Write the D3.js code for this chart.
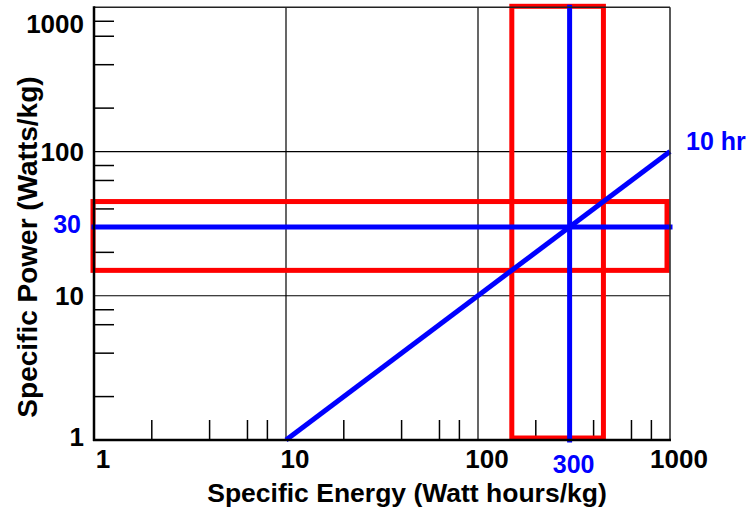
<!DOCTYPE html>
<html><head><meta charset="utf-8">
<script src="https://cdn.jsdelivr.net/npm/d3@7"></script>
<style>
body{margin:0;background:#fff}
text{font-family:"Liberation Sans",Arial,Helvetica,sans-serif;font-weight:bold}
</style>
</head><body>
<svg id="c" width="750" height="509"></svg>
<script>
// ---- data ----
const xMajor = [1, 10, 100, 1000];
const yMajor = [1, 10, 100, 1000];
const xLabels = ["1", "10", "100", "1000"];
const yLabels = ["1", "10", "100", "1000"];
const decades = [1, 10, 100];
const minorMultipliers = [2, 4, 6.3, 8];
const gridValues = [10, 100];
const diagonalEnergy = [10, 1000];   // Wh/kg
const diagonalPower = [1, 100];      // W/kg  (10 hr discharge)
const energyMark = 300, powerMark = 30;
const energyBand = [150, 450];
const powerBand = [15, 45];
const xTitle = "Specific Energy (Watt hours/kg)";
const yTitle = "Specific Power (Watts/kg)";
const lineLabel = "10 hr";

// ---- layout ----
const svg = d3.select("#c");
const x = d3.scaleLog().domain([1, 1000]).range([94, 670]);
const y = d3.scaleLog().domain([1, 1000]).range([440, 7.3]);
const minors = decades.flatMap(d => minorMultipliers.map(m => d * m));

// grid
svg.append("g").selectAll("line").data(gridValues).join("line")
  .attr("x1", d => x(d)).attr("x2", d => x(d)).attr("y1", y(1)).attr("y2", y(1000))
  .attr("stroke", "#000").attr("stroke-width", 1.2);
svg.append("g").selectAll("line").data(gridValues).join("line")
  .attr("y1", d => y(d)).attr("y2", d => y(d)).attr("x1", x(1)).attr("x2", x(1000))
  .attr("stroke", "#000").attr("stroke-width", 1.2);

// minor ticks
svg.append("g").selectAll("line").data(minors).join("line")
  .attr("x1", d => x(d)).attr("x2", d => x(d)).attr("y1", y(1)).attr("y2", y(1) - 20)
  .attr("stroke", "#000").attr("stroke-width", 1.5);
svg.append("g").selectAll("line").data(minors).join("line")
  .attr("y1", d => y(d)).attr("y2", d => y(d)).attr("x1", x(1)).attr("x2", x(1) + 20)
  .attr("stroke", "#000").attr("stroke-width", 1.5);

// red bands
svg.append("rect")
  .attr("x", x(energyBand[0])).attr("width", x(energyBand[1]) - x(energyBand[0]))
  .attr("y", y(1000) - 1).attr("height", y(1) - y(1000) - 1)
  .attr("fill", "none").attr("stroke", "#ff0000").attr("stroke-width", 5);
svg.append("rect")
  .attr("x", x(1) - 1).attr("width", x(1000) - x(1) - 2)
  .attr("y", y(powerBand[1])).attr("height", y(powerBand[0]) - y(powerBand[1]))
  .attr("fill", "none").attr("stroke", "#ff0000").attr("stroke-width", 5);

// blue lines
const blue = "#0000ff";
svg.append("line")
  .attr("x1", x(1)).attr("x2", x(1000)).attr("y1", y(powerMark)).attr("y2", y(powerMark))
  .attr("stroke", blue).attr("stroke-width", 5).attr("stroke-linecap", "square");
svg.append("line")
  .attr("x1", x(energyMark)).attr("x2", x(energyMark)).attr("y1", y(1)).attr("y2", y(1000))
  .attr("stroke", blue).attr("stroke-width", 5).attr("stroke-linecap", "square");
const diag = diagonalEnergy.map((e, i) => [x(e), y(diagonalPower[i])]);
svg.append("path").attr("d", d3.line()(diag))
  .attr("fill", "none").attr("stroke", blue).attr("stroke-width", 5);

// frame
svg.append("line").attr("x1", x(1)).attr("x2", x(1000)).attr("y1", y(1000)).attr("y2", y(1000))
  .attr("stroke", "#222").attr("stroke-width", 1.5);
svg.append("line").attr("x1", x(1000)).attr("x2", x(1000)).attr("y1", y(1000)).attr("y2", y(1))
  .attr("stroke", "#222").attr("stroke-width", 1.5);
svg.append("line").attr("x1", x(1)).attr("x2", x(1)).attr("y1", y(1000) - 1).attr("y2", y(1) + 1)
  .attr("stroke", "#000").attr("stroke-width", 2.5);
svg.append("line").attr("x1", x(1) - 1).attr("x2", x(1000) + 1).attr("y1", y(1)).attr("y2", y(1))
  .attr("stroke", "#000").attr("stroke-width", 2.5);

// tick labels
svg.append("g").selectAll("text").data(xMajor).join("text")
  .attr("x", d => x(d) + 9).attr("y", 468)
  .attr("text-anchor", "middle").attr("font-size", 26).attr("fill", "#000")
  .text((d, i) => xLabels[i]);
svg.append("g").selectAll("text").data(yMajor).join("text")
  .attr("x", 84).attr("y", d => Math.min(Math.max(y(d), 24), 437) + 9)
  .attr("text-anchor", "end").attr("font-size", 26).attr("fill", "#000")
  .text((d, i) => yLabels[i]);

// blue labels
svg.append("text").attr("x", x(energyMark) + 4).attr("y", 473)
  .attr("text-anchor", "middle").attr("font-size", 25).attr("fill", blue).text(String(energyMark));
svg.append("text").attr("x", 81).attr("y", y(powerMark) + 6)
  .attr("text-anchor", "end").attr("font-size", 25).attr("fill", blue).text(String(powerMark));
svg.append("text").attr("x", 686).attr("y", 150)
  .attr("text-anchor", "start").attr("font-size", 25).attr("fill", blue).text(lineLabel);

// axis titles
svg.append("text").attr("x", 407).attr("y", 502)
  .attr("text-anchor", "middle").attr("font-size", 26.5).attr("fill", "#000").text(xTitle);
svg.append("text").attr("transform", "translate(37,247) rotate(-90)")
  .attr("text-anchor", "middle").attr("font-size", 28).attr("fill", "#000").text(yTitle);
</script>
</body></html>
